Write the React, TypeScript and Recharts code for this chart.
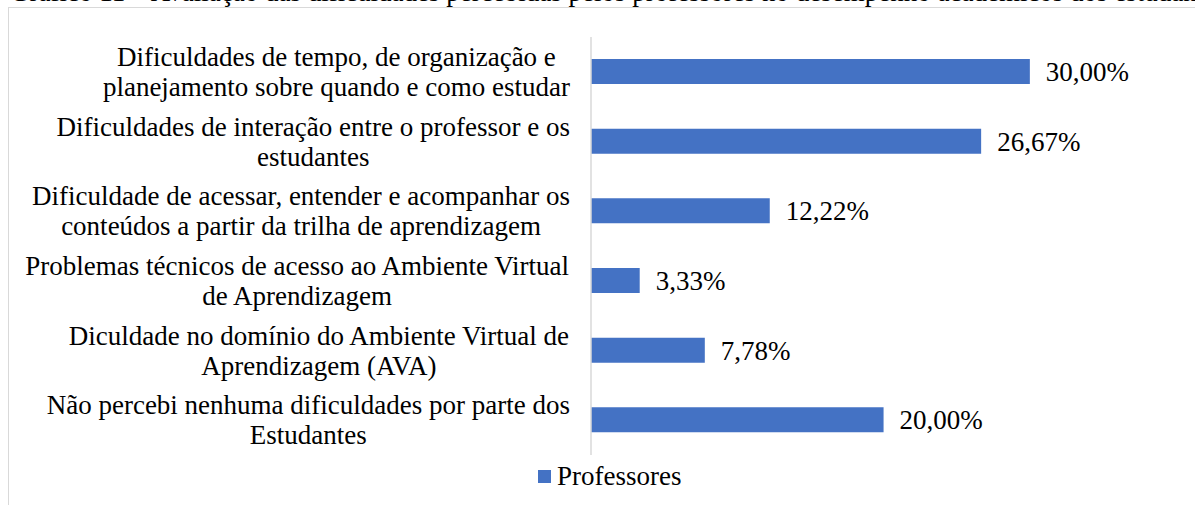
import { BarChart, Bar, XAxis, YAxis, Legend, LabelList } from 'recharts'

const categories = [
  'Dificuldades de tempo, de organização e\nplanejamento sobre quando e como estudar',
  'Dificuldades de interação entre o professor e os\nestudantes',
  'Dificuldade de acessar, entender e acompanhar os\nconteúdos a partir da trilha de aprendizagem',
  'Problemas técnicos de acesso ao Ambiente Virtual\nde Aprendizagem',
  'Diculdade no domínio do Ambiente Virtual de\nAprendizagem (AVA)',
  'Não percebi nenhuma dificuldades por parte dos\nEstudantes',
]
const professores = [30.0, 26.67, 12.22, 3.33, 7.78, 20.0]
const seriesName = 'Professores'
const title = 'Gráfico 11 – Avaliação das dificuldades percebidas pelos professores no desempenho acadêmicos dos estudantes'

const data = categories.map((name, i) => ({ name, value: professores[i] }))

const FONT = 'Liberation Serif, Times New Roman, DejaVu Serif, serif'
const FS = 27

let ctx: CanvasRenderingContext2D | null = null
function textWidth(s: string) {
  if (!ctx) ctx = document.createElement('canvas').getContext('2d')
  if (!ctx) return s.length * FS * 0.45
  ctx.font = `${FS}px ${FONT}`
  return ctx.measureText(s).width
}

const CategoryTick = ({ x, y, payload }: any) => {
  const lines = String(payload.value).split('\n')
  const maxW = Math.max(...lines.map(textWidth))
  const cx = x - maxW / 2
  return (
    <text x={cx} y={y} textAnchor="middle" style={{ fontFamily: FONT, fontSize: FS }} fill="#000">
      {lines.map((l, i) => (
        <tspan key={i} x={cx} y={y - 6 + i * 30}>{l}</tspan>
      ))}
    </text>
  )
}

const fmt = (v: any) => Number(v).toFixed(2).replace('.', ',') + '%'

const LegendBox = ({ payload }: any) => (
  <div style={{ display: 'flex', alignItems: 'center', fontFamily: FONT, fontSize: FS, lineHeight: '28px', color: '#000' }}>
    {(payload || []).map((p: any, i: number) => (
      <div key={i} style={{ display: 'flex', alignItems: 'center' }}>
        <span style={{ width: 13, height: 13, background: p.color, display: 'inline-block', marginRight: 6 }} />
        <span style={{ fontFamily: FONT }}>{p.value}</span>
      </div>
    ))}
  </div>
)

export default function App() {
  return (
    <div style={{ position: 'relative', width: 1195, height: 505, overflow: 'hidden', background: '#fff', fontFamily: FONT }}>
      <style>{'body{margin:0;overflow:hidden}'}</style>
      <div style={{ position: 'absolute', left: 10, top: -21, fontSize: FS, lineHeight: '27px', whiteSpace: 'nowrap' }}>
        {title}
      </div>
      <div style={{ position: 'absolute', left: 8, top: 7, width: 1300, height: 600, border: '1px solid #d9d9d9', boxSizing: 'border-box' }} />
      <div style={{ position: 'absolute', left: 8, top: 0 }}>
        <BarChart
          layout="vertical"
          width={1187}
          height={505}
          data={data}
          margin={{ top: 37, right: 92, bottom: 50, left: 0 }}
        >
          <XAxis type="number" domain={[0, 35]} hide />
          <YAxis
            type="category"
            dataKey="name"
            width={583}
            tickLine={false}
            tickSize={0}
            tickMargin={21}
            axisLine={{ stroke: '#d9d9d9', strokeWidth: 1.5 }}
            tick={<CategoryTick />}
            interval={0}
          />
          <Legend
            layout="horizontal"
            verticalAlign="middle"
            align="center"
            content={<LegendBox />}
            wrapperStyle={{ position: 'absolute', top: 462, left: 530, width: 'auto' }}
          />
          <Bar dataKey="value" name={seriesName} fill="#4472C4" barSize={25} isAnimationActive={false}>
            <LabelList
              dataKey="value"
              position="right"
              offset={16}
              formatter={fmt}
              style={{ fontFamily: FONT, fontSize: FS, fill: '#000' }}
            />
          </Bar>
        </BarChart>
      </div>
    </div>
  )
}
